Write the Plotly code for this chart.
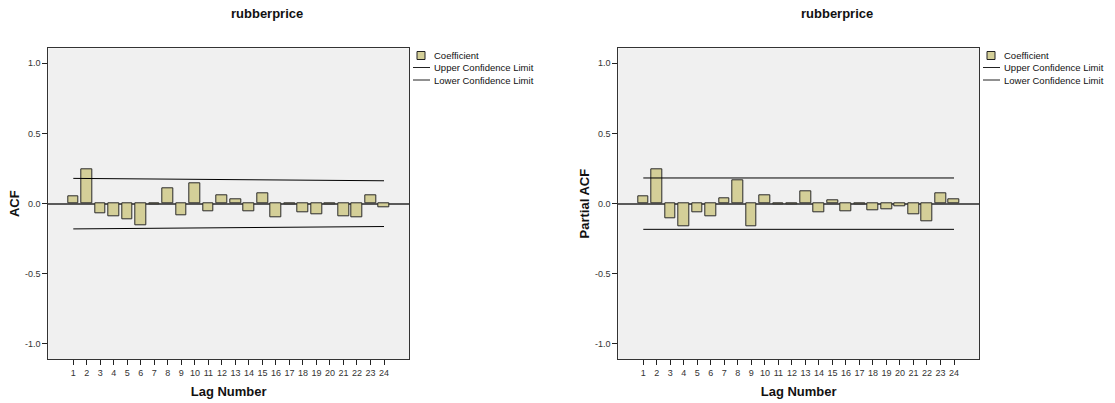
import plotly.graph_objects as go

lags = list(range(1, 25))
tick_vals = [-1.0, -0.5, 0.0, 0.5, 1.0]
tick_text = ["-1.0", "-0.5", "0.0", "0.5", "1.0"]

acf_values = [0.053, 0.246, -0.072, -0.093, -0.112, -0.151, -0.003, 0.110,
              -0.084, 0.146, -0.057, 0.062, 0.031, -0.057, 0.072, -0.098,
              -0.003, -0.065, -0.074, -0.002, -0.091, -0.098, 0.062, -0.029]
pacf_values = [0.053, 0.246, -0.105, -0.158, -0.062, -0.093, 0.036, 0.167,
               -0.160, 0.060, -0.003, -0.003, 0.086, -0.060, 0.024, -0.055,
               -0.004, -0.050, -0.041, -0.019, -0.074, -0.127, 0.076, 0.033]

conf_lags = [1, 24]
acf_upper = [0.180, 0.163]
acf_lower = [-0.180, -0.163]
pacf_upper = [0.183, 0.183]
pacf_lower = [-0.183, -0.183]

title_text = "rubberprice"
legend_labels = ["Coefficient", "Upper Confidence Limit", "Lower Confidence Limit"]

W, H = 1115, 403
FONT = "Arial, 'Liberation Sans', sans-serif"
BAR = "#d4cf98"

def px(x):
    return x / W

def py(y):
    return 1 - y / H

fig = go.Figure()

panels = [
    dict(vals=acf_values, up=acf_upper, lo=acf_lower, xa="x", ya="y", title_x=267, leg_x=417),
    dict(vals=pacf_values, up=pacf_upper, lo=pacf_lower, xa="x2", ya="y2", title_x=837, leg_x=987),
]

for p in panels:
    fig.add_trace(go.Bar(x=lags, y=p["vals"], width=0.8, marker=dict(color=BAR, line=dict(color="#2a2a2a", width=1)),
                         xaxis=p["xa"], yaxis=p["ya"], name=legend_labels[0], showlegend=False))
    fig.add_trace(go.Scatter(x=conf_lags, y=p["up"], mode="lines", line=dict(color="black", width=1),
                             xaxis=p["xa"], yaxis=p["ya"], name=legend_labels[1], showlegend=False))
    fig.add_trace(go.Scatter(x=conf_lags, y=p["lo"], mode="lines", line=dict(color="black", width=1),
                             xaxis=p["xa"], yaxis=p["ya"], name=legend_labels[2], showlegend=False))

axis_common_x = dict(range=[-0.85, 25.85], tickmode="array", tickvals=lags, ticktext=[str(v) for v in lags],
                     ticks="outside", ticklen=5, tickcolor="#222", tickfont=dict(family=FONT, size=9, color="#333"),
                     showline=True, linecolor="#333", linewidth=1, mirror=True, showgrid=False, zeroline=False,
                     automargin=False)
axis_common_y = dict(range=[-1.107, 1.107], tickmode="array", tickvals=tick_vals, ticktext=tick_text,
                     ticks="outside", ticklen=5, tickcolor="#222", tickfont=dict(family=FONT, size=9, color="#333"),
                     showline=True, linecolor="#333", linewidth=1, mirror=True, showgrid=False, zeroline=True,
                     zerolinecolor="#5a5a5a", zerolinewidth=1.5, automargin=False)

xtitle = dict(text="<b>Lag Number</b>", font=dict(family=FONT, size=13, color="#111"), standoff=10)
y_dom = [py(359.0), py(48.3)]
fig.update_layout(
    xaxis=dict(domain=[px(48.3), px(409.0)], anchor="y", title=xtitle, **axis_common_x),
    yaxis=dict(domain=y_dom, anchor="x", title=dict(text="<b>ACF</b>", font=dict(family=FONT, size=13, color="#111"), standoff=2), **axis_common_y),
    xaxis2=dict(domain=[px(618.3), px(979.0)], anchor="y2", title=xtitle, **axis_common_x),
    yaxis2=dict(domain=y_dom, anchor="x2", title=dict(text="<b>Partial ACF</b>", font=dict(family=FONT, size=13, color="#111"), standoff=2), **axis_common_y),
)

shapes = []
annotations = []
for p in panels:
    annotations.append(dict(text="<b>" + title_text + "</b>", x=px(p["title_x"]), y=py(14), xref="paper", yref="paper",
                            xanchor="center", yanchor="middle", showarrow=False, font=dict(family=FONT, size=13, color="#111")))
    lx = p["leg_x"]
    shapes.append(dict(type="rect", xref="paper", yref="paper", x0=px(lx), x1=px(lx + 8), y0=py(59.5), y1=py(51.5),
                       fillcolor=BAR, line=dict(color="#222", width=1)))
    for yy in [67.5, 80.0]:
        shapes.append(dict(type="line", xref="paper", yref="paper", x0=px(lx - 4), x1=px(lx + 13), y0=py(yy), y1=py(yy),
                           line=dict(color="#222", width=1)))
    for i, yy in enumerate([55.5, 67.5, 80.0]):
        annotations.append(dict(text=legend_labels[i], x=px(lx + 15), y=py(yy), xref="paper", yref="paper",
                                xanchor="left", yanchor="middle", showarrow=False, font=dict(family=FONT, size=9.5, color="#111")))

fig.update_layout(
    width=W, height=H, margin=dict(l=0, r=0, t=0, b=0),
    paper_bgcolor="white", plot_bgcolor="#f0f0f0", showlegend=False, bargap=0,
    shapes=shapes, annotations=annotations, font=dict(family=FONT),
)

fig.write_html("out.html", config={"displayModeBar": False},
               post_script="document.body.style.margin='0';document.body.style.overflow='hidden';")
